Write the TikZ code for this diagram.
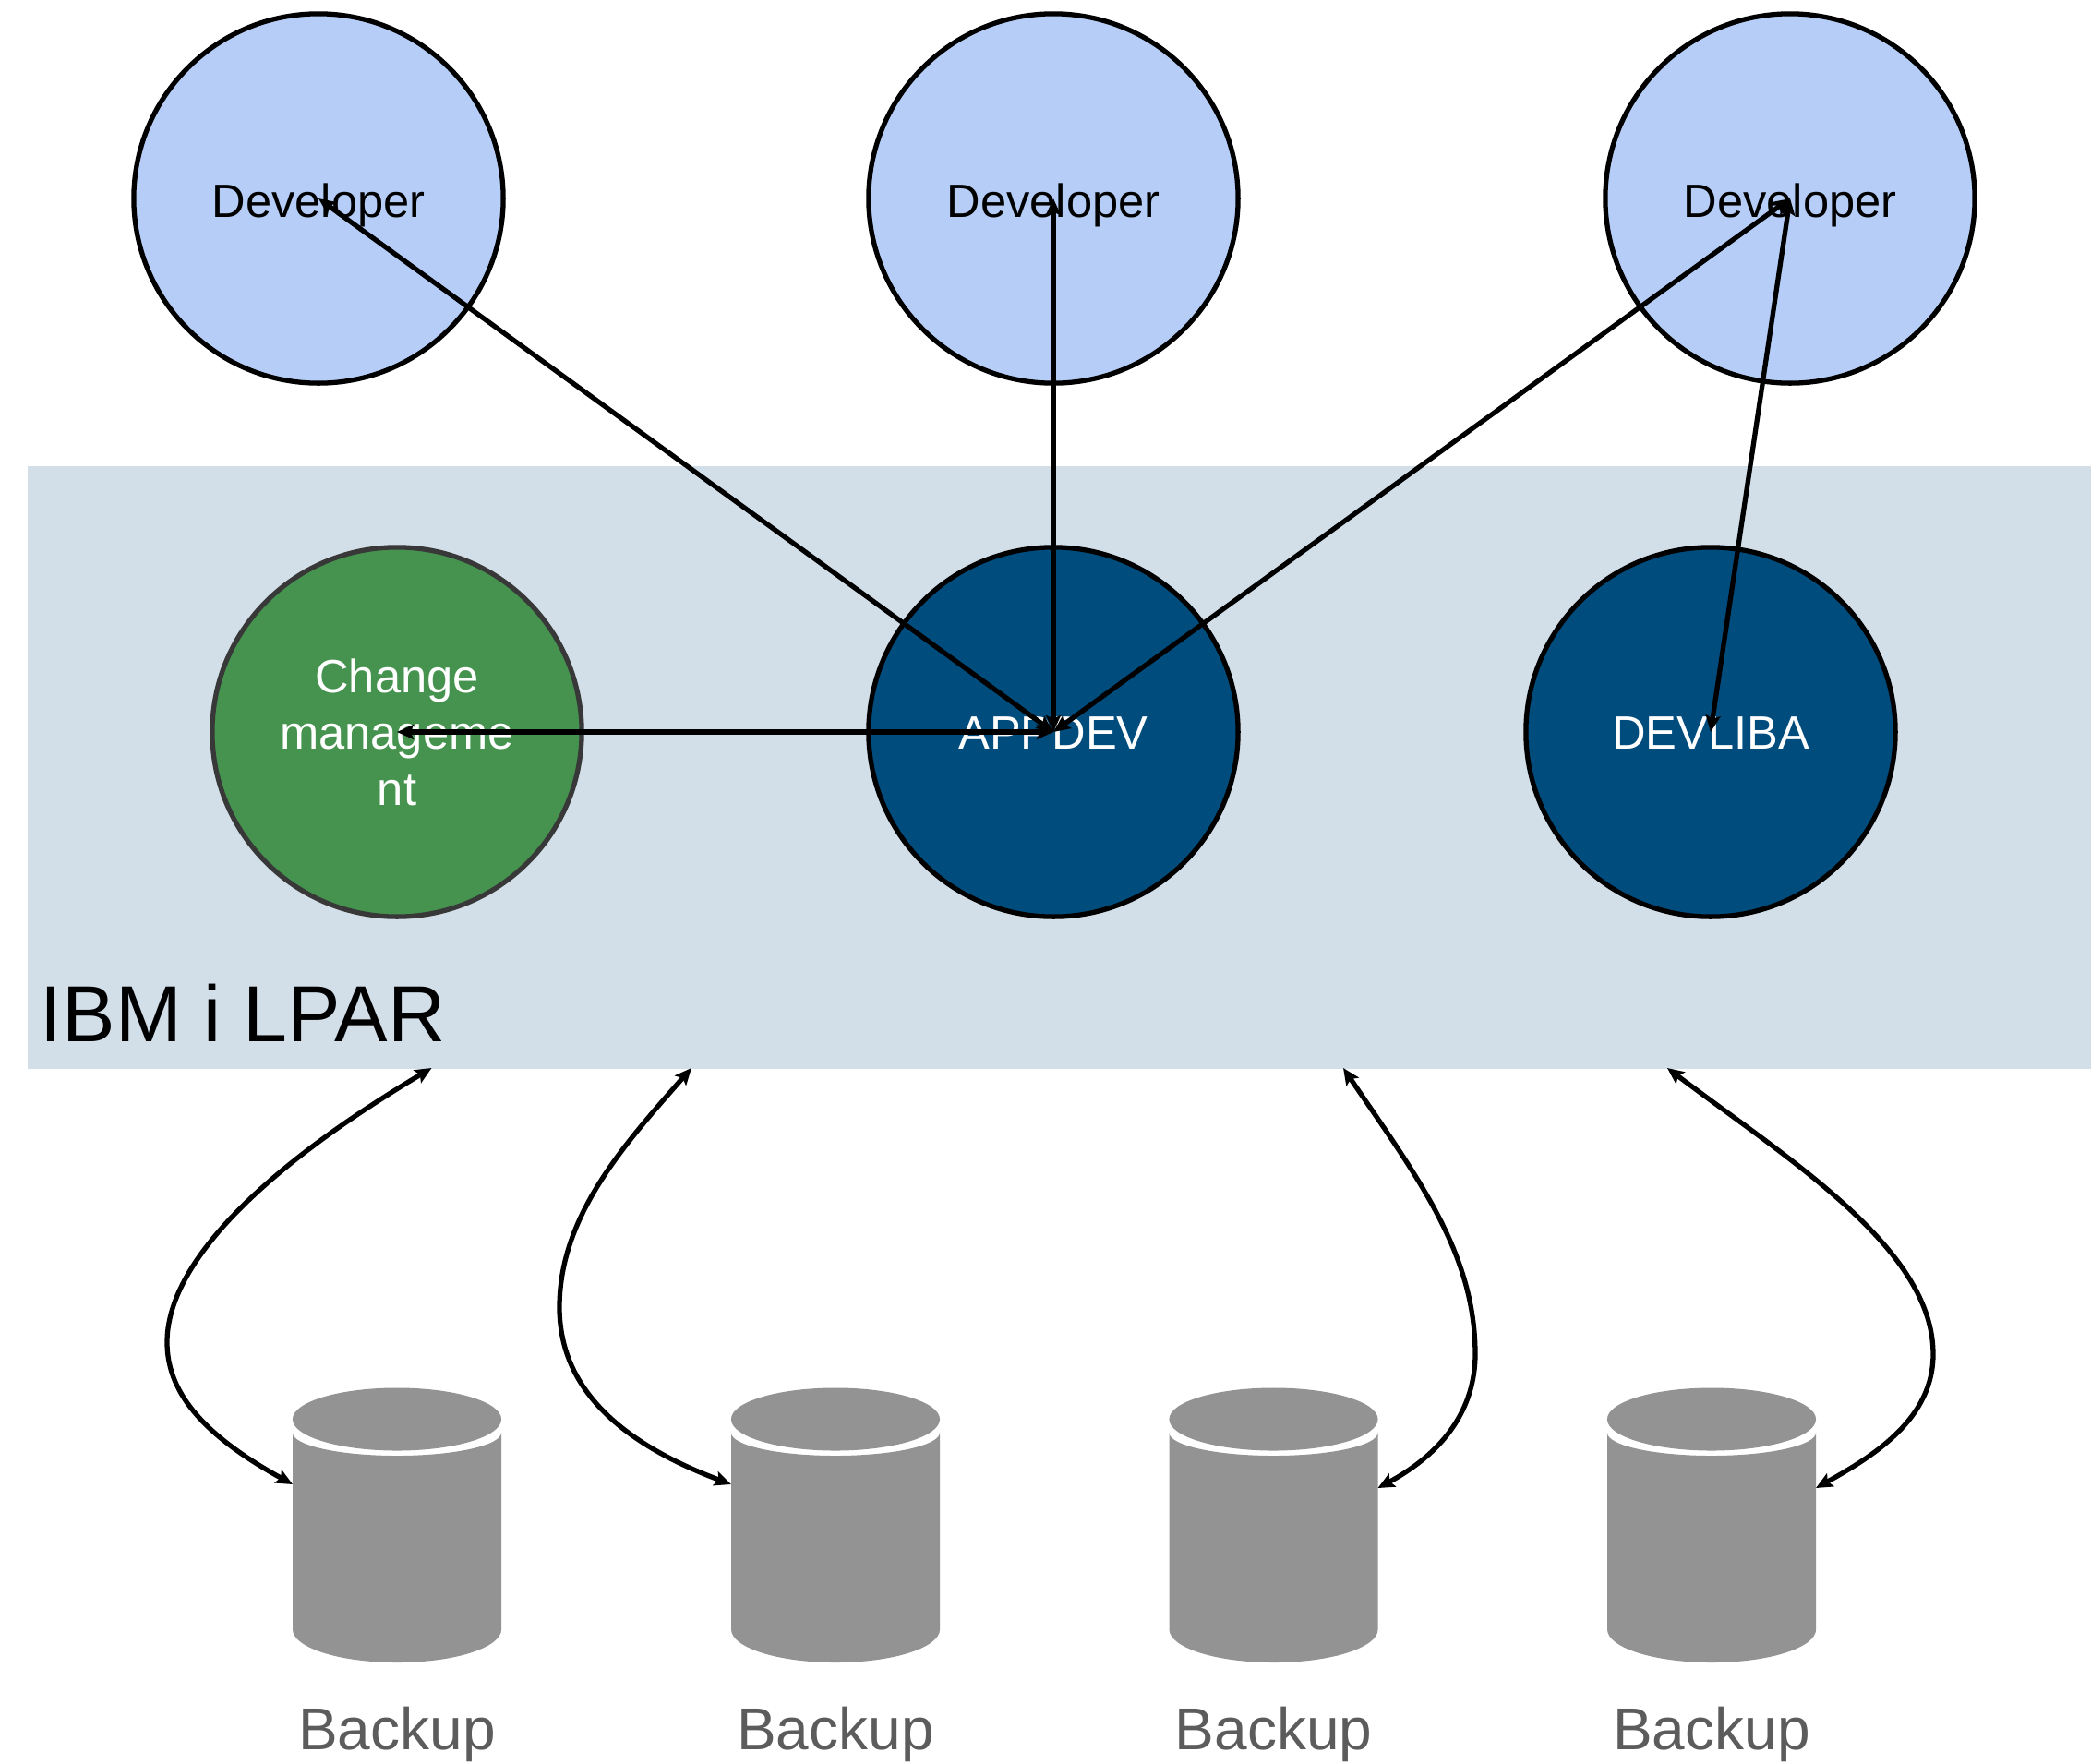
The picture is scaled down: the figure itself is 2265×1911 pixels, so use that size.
\documentclass[tikz,border=0pt]{standalone}
\usepackage{fontspec}
\setmainfont{Liberation Sans}
\usetikzlibrary{arrows.meta}
\definecolor{devblue}{HTML}{B6CEF7}
\definecolor{band}{HTML}{D2DEE8}
\definecolor{navy}{HTML}{004C7D}
\definecolor{leaf}{HTML}{45934F}
\definecolor{cyl}{HTML}{939393}
\definecolor{bktext}{HTML}{5C5C5C}
\tikzset{
  base circle/.style={circle,minimum size=4cm,inner sep=0pt,line width=1.5pt,align=center,
    font=\fontsize{14.4}{17.3}\selectfont},
  devnode/.style={base circle,draw=black,fill=devblue,text=black,text height=11.4pt,text depth=0pt},
  libnode/.style={base circle,draw=black,fill=navy,text=white,text height=10.7pt,text depth=0pt},
  cmnode/.style={base circle,draw=black!78,fill=leaf,text=white},
  lparbox/.style={rectangle,fill=band,inner sep=0pt,minimum width=22.36cm,minimum height=6.53cm},
  lparlabel/.style={anchor=base west,inner sep=0pt,font=\fontsize{24.5}{28}\selectfont,text=black},
  bklabel/.style={anchor=base,inner sep=0pt,font=\fontsize{18.2}{22}\selectfont,text=bktext},
  anchorpt/.style={inner sep=0pt,minimum size=0pt},
  link/.style={line width=1.5pt,black,{Stealth[length=1.8mm,width=1.6mm,inset=0.35mm]}-{Stealth[length=1.8mm,width=1.6mm,inset=0.35mm]}}
}
\newcommand{\bkcyl}[2]{%
  \fill[cyl] (#1-113,1552) -- (#1-113,1765)
    arc[start angle=180,end angle=360,x radius=1.13cm,y radius=.36cm]
    -- (#1+113,1552)
    arc[start angle=0,end angle=-180,x radius=1.13cm,y radius=.25cm] -- cycle;
  \fill[cyl] (#1,1537.5) ellipse[x radius=1.13cm,y radius=.34cm];
  \node[anchorpt] (#2) at (#1,1650) {};
  \coordinate (#2w) at (#1-113,1608);
  \coordinate (#2e) at (#1+113,1612);
}
\begin{document}
\begin{tikzpicture}[x=0.01cm,y=-0.01cm]
\useasboundingbox (0,0) rectangle (2265,1911);
\node[lparbox,anchor=north west] (lpar) at (29,504) {};
\node[lparlabel] (lparname) at (43,1128) {IBM i LPAR};

\node[devnode] (dev1) at (345,215) {Developer};
\node[devnode] (dev2) at (1141,215) {Developer};
\node[devnode] (dev3) at (1939,215) {Developer};
\node[cmnode] (cm) at (430,793) {Change\\manageme\\nt};
\node[libnode] (app) at (1141,793) {APPDEV};
\node[libnode] (lib) at (1853,793) {DEVLIBA};

\bkcyl{430}{b1}
\bkcyl{905}{b2}
\bkcyl{1379.5}{b3}
\bkcyl{1854}{b4}
\node[bklabel] (t1) at (430,1895) {Backup};
\node[bklabel] (t2) at (905,1895) {Backup};
\node[bklabel] (t3) at (1379.5,1895) {Backup};
\node[bklabel] (t4) at (1854,1895) {Backup};

\coordinate (p1) at (467.5,1157);
\coordinate (p2) at (749,1157);
\coordinate (p3) at (1455,1157);
\coordinate (p4) at (1806,1157);

\draw[link] (dev1.center) -- (app.center);
\draw[link] (dev2.center) -- (app.center);
\draw[link] (dev3.center) -- (app.center);
\draw[link] (dev3.center) -- (lib.center);
\draw[link] (cm.center) -- (app.center);

\draw[link] (p1) .. controls (270,1275) and (181,1375) .. (181,1454)
  .. controls (181,1505) and (215,1552) .. (b1w);
\draw[link] (p2) .. controls (677,1239) and (606,1317) .. (606,1416)
  .. controls (606,1488) and (650,1555) .. (b2w);
\draw[link] (p3) .. controls (1535,1275) and (1598,1357) .. (1598,1467)
  .. controls (1598,1525) and (1565,1573) .. (b3e);
\draw[link] (p4) .. controls (1940,1258) and (2094,1353) .. (2094,1467)
  .. controls (2094,1536) and (2032,1576) .. (b4e);
\end{tikzpicture}
\end{document}
